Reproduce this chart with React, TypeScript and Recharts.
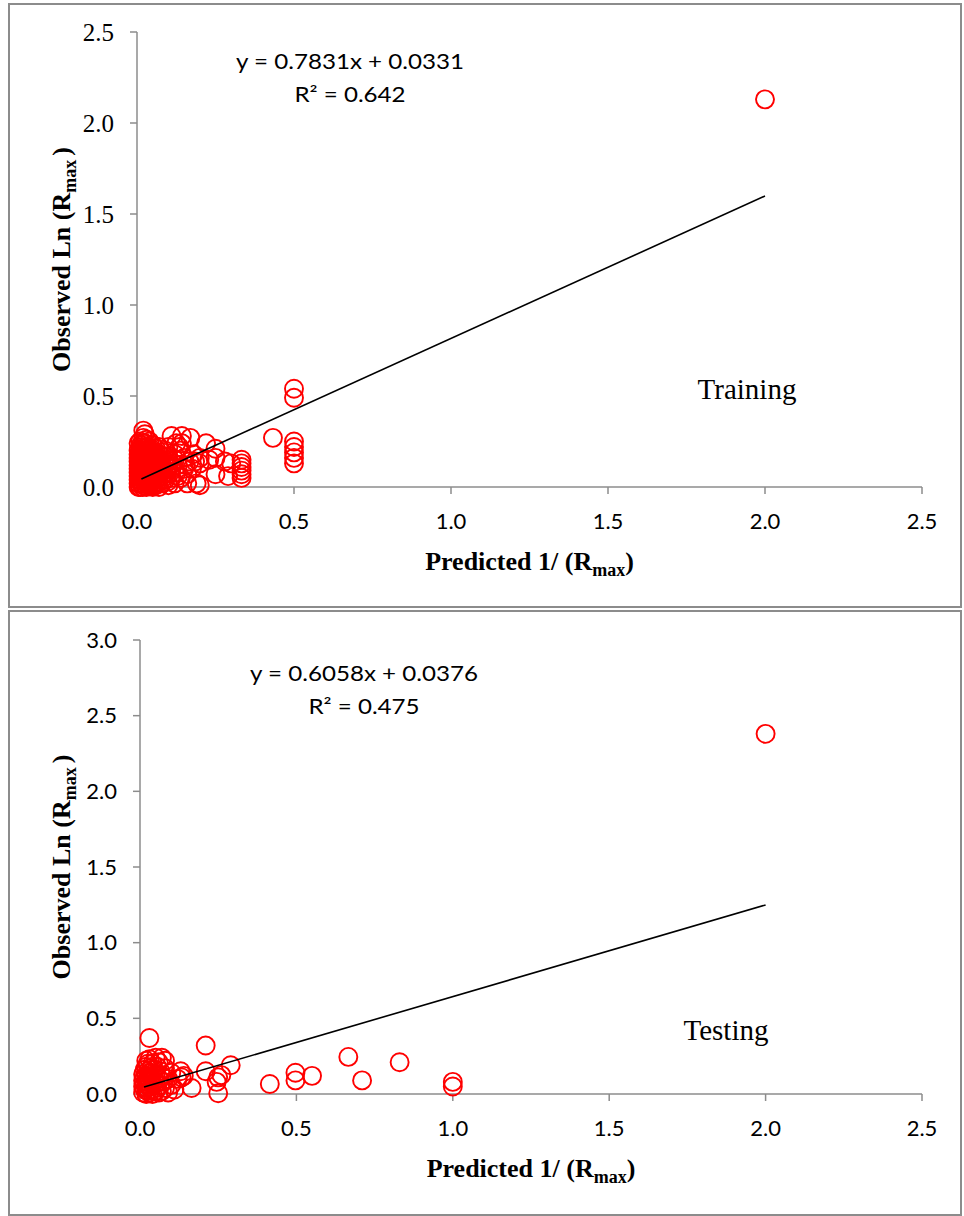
import React from "react";
import { Label, Scatter, ScatterChart, XAxis, YAxis } from "recharts";

// ---------------------------------------------------------------------------
// Data read off the reference (predicted, observed)
// ---------------------------------------------------------------------------

const X_TICKS = [0, 0.5, 1, 1.5, 2, 2.5];
const TRAIN_Y_TICKS = [0, 0.5, 1, 1.5, 2, 2.5];
const TEST_Y_TICKS = [0, 0.5, 1, 1.5, 2, 2.5, 3];

const TRAINING_POINTS: [number, number][] = [
  [0.005, 0.0], [0.005, 0.02], [0.005, 0.04], [0.005, 0.06], [0.005, 0.08], [0.005, 0.1],
  [0.005, 0.12], [0.005, 0.14], [0.005, 0.16], [0.005, 0.18], [0.005, 0.2], [0.005, 0.24],
  [0.01, 0.0], [0.01, 0.04], [0.01, 0.08], [0.01, 0.12], [0.01, 0.16], [0.01, 0.2], [0.01, 0.25],
  [0.012, 0.02], [0.012, 0.06], [0.012, 0.1], [0.012, 0.14], [0.012, 0.18], [0.012, 0.23],
  [0.015, 0.02], [0.015, 0.06], [0.015, 0.11], [0.015, 0.15], [0.015, 0.19], [0.015, 0.22],
  [0.018, 0.0], [0.018, 0.04], [0.018, 0.08], [0.018, 0.12], [0.018, 0.16], [0.018, 0.2], [0.018, 0.24],
  [0.02, 0.01], [0.02, 0.05], [0.02, 0.09], [0.02, 0.13], [0.02, 0.17], [0.02, 0.21], [0.02, 0.27], [0.02, 0.31],
  [0.025, 0.03], [0.025, 0.07], [0.025, 0.12], [0.025, 0.18], [0.025, 0.24], [0.025, 0.29],
  [0.028, 0.02], [0.028, 0.06], [0.028, 0.1], [0.028, 0.16], [0.028, 0.22],
  [0.03, 0.0], [0.03, 0.04], [0.03, 0.08], [0.03, 0.14], [0.03, 0.2], [0.03, 0.26],
  [0.035, 0.02], [0.035, 0.1], [0.035, 0.16], [0.035, 0.22],
  [0.038, 0.04], [0.038, 0.08], [0.038, 0.14], [0.038, 0.2],
  [0.04, 0.01], [0.04, 0.06], [0.04, 0.12], [0.04, 0.18], [0.04, 0.25],
  [0.045, 0.03], [0.045, 0.09], [0.045, 0.15], [0.045, 0.21],
  [0.048, 0.01], [0.048, 0.07], [0.048, 0.13], [0.048, 0.19],
  [0.05, 0.0], [0.05, 0.05], [0.05, 0.11], [0.05, 0.17], [0.05, 0.23],
  [0.055, 0.02], [0.055, 0.08], [0.055, 0.14], [0.055, 0.19],
  [0.058, 0.04], [0.058, 0.1], [0.058, 0.17],
  [0.06, 0.01], [0.06, 0.06], [0.06, 0.12], [0.06, 0.16], [0.06, 0.21],
  [0.065, 0.03], [0.065, 0.09], [0.065, 0.14],
  [0.068, 0.07], [0.068, 0.16],
  [0.07, 0.0], [0.07, 0.05], [0.07, 0.11], [0.07, 0.18], [0.07, 0.22],
  [0.075, 0.08], [0.075, 0.15],
  [0.078, 0.04], [0.078, 0.1], [0.078, 0.17],
  [0.08, 0.02], [0.08, 0.06], [0.08, 0.12], [0.08, 0.19],
  [0.085, 0.1], [0.088, 0.07], [0.088, 0.12], [0.09, 0.04], [0.09, 0.14], [0.09, 0.2],
  [0.095, 0.08], [0.098, 0.03], [0.098, 0.15], [0.1, 0.01], [0.1, 0.12], [0.1, 0.17], [0.1, 0.22],
  [0.105, 0.08], [0.11, 0.05], [0.11, 0.1], [0.11, 0.28], [0.115, 0.13],
  [0.12, 0.02], [0.12, 0.15], [0.12, 0.18], [0.125, 0.08], [0.125, 0.24],
  [0.13, 0.06], [0.13, 0.12], [0.135, 0.22], [0.14, 0.05], [0.14, 0.2],
  [0.143, 0.28], [0.143, 0.24], [0.15, 0.1], [0.15, 0.16], [0.155, 0.12],
  [0.16, 0.02], [0.16, 0.07], [0.167, 0.14], [0.17, 0.27], [0.175, 0.1], [0.18, 0.18], [0.185, 0.14],
  [0.19, 0.02], [0.2, 0.01], [0.2, 0.16], [0.2, 0.13],
  [0.22, 0.24], [0.23, 0.15], [0.25, 0.21], [0.25, 0.16], [0.25, 0.07], [0.28, 0.14], [0.3, 0.13], [0.29, 0.06],
  [0.333, 0.15], [0.333, 0.13], [0.333, 0.11], [0.333, 0.09], [0.333, 0.07], [0.333, 0.05],
  [0.433, 0.27], [0.5, 0.25], [0.5, 0.22], [0.5, 0.19], [0.5, 0.16], [0.5, 0.13],
  [0.5, 0.54], [0.5, 0.49], [2.0, 2.13],
];

const TESTING_POINTS: [number, number][] = [
  [0.01, 0.01], [0.01, 0.05], [0.01, 0.09], [0.01, 0.13],
  [0.015, 0.03], [0.015, 0.07], [0.015, 0.11], [0.015, 0.16],
  [0.02, 0.0], [0.02, 0.04], [0.02, 0.08], [0.02, 0.12], [0.02, 0.18], [0.02, 0.22],
  [0.025, 0.02], [0.025, 0.06], [0.025, 0.1], [0.025, 0.15], [0.025, 0.2],
  [0.03, 0.01], [0.03, 0.05], [0.03, 0.09], [0.03, 0.14], [0.03, 0.23], [0.03, 0.37],
  [0.035, 0.03], [0.035, 0.11], [0.035, 0.17],
  [0.04, 0.0], [0.04, 0.06], [0.04, 0.13], [0.04, 0.2],
  [0.045, 0.09], [0.045, 0.16], [0.05, 0.02], [0.05, 0.07], [0.05, 0.12], [0.05, 0.24],
  [0.055, 0.04], [0.055, 0.18], [0.06, 0.01], [0.06, 0.1], [0.06, 0.21],
  [0.065, 0.06], [0.065, 0.15], [0.07, 0.02], [0.07, 0.12], [0.07, 0.24],
  [0.075, 0.08], [0.08, 0.04], [0.08, 0.17], [0.08, 0.22], [0.09, 0.1], [0.09, 0.01],
  [0.1, 0.06], [0.1, 0.14], [0.11, 0.03], [0.12, 0.1], [0.13, 0.15], [0.133, 0.11], [0.14, 0.12],
  [0.165, 0.04], [0.21, 0.32], [0.21, 0.15], [0.245, 0.08], [0.25, 0.11], [0.25, 0.005], [0.26, 0.125],
  [0.29, 0.19], [0.415, 0.066], [0.497, 0.14], [0.497, 0.09], [0.55, 0.12], [0.666, 0.245],
  [0.71, 0.09], [0.83, 0.21], [1.0, 0.08], [1.0, 0.05], [2.0, 2.38],
];

// linear trend line end points
const TRAINING_FIT: [number, number][] = [[0.014, 0.044], [2.0, 1.599]];
const TESTING_FIT: [number, number][] = [[0.013, 0.046], [2.0, 1.249]];

const SERIF = "Liberation Serif";
const SANS = "Lato";
const AXIS_GREY = "#8c8c8c";

const toRows = (pts: [number, number][]) => pts.map(([x, y]) => ({ x, y }));

// ---------------------------------------------------------------------------
// Small render helpers
// ---------------------------------------------------------------------------

const Ring = (props: any) => (
  <circle cx={props.cx} cy={props.cy} r={9} fill="none" stroke="#ff0000" strokeWidth={1.9} />
);

const NoDot = () => <g />;

function XTick(props: any) {
  const { x, y, payload } = props;
  return (
    <text x={x} y={y} dy={35} textAnchor="middle" fontFamily={SANS} fontSize={22} fill="#000">
      {Number(payload.value).toFixed(1)}
    </text>
  );
}

const XTitle = (props: any) => {
  const { x, y, width } = props.viewBox;
  return (
    <text x={x + width / 2} y={y + 83} textAnchor="middle" fontFamily={SERIF} fontWeight="bold" fontSize={26} fill="#000">
      Predicted 1/ (R
      <tspan fontSize={18} dy={6}>max</tspan>
      <tspan dy={-6}>)</tspan>
    </text>
  );
};

const YTitle = (props: any) => {
  const { y, height } = props.viewBox;
  const cy = y + height / 2;
  return (
    <text
      transform={`translate(70, ${cy}) rotate(-90)`}
      textAnchor="middle"
      fontFamily={SERIF}
      fontWeight="bold"
      fontSize={26}
      fill="#000"
    >
      Observed Ln (R
      <tspan fontSize={18} dy={6}>max</tspan>
      <tspan dy={-6} dx={4}>)</tspan>
    </text>
  );
};

// ---------------------------------------------------------------------------
// One framed panel
// ---------------------------------------------------------------------------

interface PanelProps {
  top: number;
  height: number;
  plotTop: number;
  yAxisWidth: number;
  xAxisHeight: number;
  points: [number, number][];
  fit: [number, number][];
  yTicks: number[];
  yTickFont: string;
  yTickSize: number;
  equation: string;
  r2: string;
  eqX: number;
  eqY: number;
  tag: string;
  tagX: number;
  tagY: number;
}

function Panel(p: PanelProps) {
  const yMax = p.yTicks[p.yTicks.length - 1];
  return (
    <div style={{ position: "absolute", left: 0, top: p.top, width: 964, height: p.height }}>
      <ScatterChart
        width={964}
        height={p.height}
        margin={{ top: p.plotTop, right: 42, bottom: 0, left: 0 }}
      >
        <XAxis
          type="number"
          dataKey="x"
          domain={[0, 2.5]}
          ticks={X_TICKS}
          height={p.xAxisHeight}
          axisLine={{ stroke: AXIS_GREY, strokeWidth: 1.5 }}
          tickLine={{ stroke: AXIS_GREY, strokeWidth: 1.5 }}
          tickSize={7}
          tickMargin={0}
          tick={XTick}
          interval={0}
        >
          <Label content={XTitle} />
        </XAxis>
        <YAxis
          type="number"
          dataKey="y"
          domain={[0, yMax]}
          ticks={p.yTicks}
          width={p.yAxisWidth}
          axisLine={{ stroke: AXIS_GREY, strokeWidth: 1.5 }}
          tickLine={{ stroke: AXIS_GREY, strokeWidth: 1.5 }}
          tickSize={7}
          tickMargin={16}
          tick={{ fontFamily: p.yTickFont, fontSize: p.yTickSize, fill: "#000" }}
          tickFormatter={(v: number) => v.toFixed(1)}
          interval={0}
        >
          <Label content={YTitle} />
        </YAxis>
        <Scatter data={toRows(p.points)} shape={Ring} isAnimationActive={false} />
        <Scatter
          data={toRows(p.fit)}
          shape={NoDot}
          line={{ stroke: "#000", strokeWidth: 1.6 }}
          isAnimationActive={false}
        />
      </ScatterChart>
      <svg
        width={964}
        height={p.height}
        style={{ position: "absolute", left: 0, top: 0, pointerEvents: "none" }}
      >
        <g transform={`translate(${p.eqX}, ${p.eqY}) scale(1.15, 1)`}>
          <text x={0} y={0} textAnchor="middle" fontFamily={SANS} fontSize={21} fill="#000">
            {p.equation}
          </text>
          <text x={0} y={33} textAnchor="middle" fontFamily={SANS} fontSize={21} fill="#000">
            {p.r2}
          </text>
        </g>
        <text x={p.tagX} y={p.tagY} textAnchor="middle" fontFamily={SERIF} fontSize={29} fill="#000">
          {p.tag}
        </text>
      </svg>
    </div>
  );
}

export default function App() {
  return (
    <div style={{ position: "absolute", left: 0, top: 0, width: 964, height: 1216, background: "#fff" }}>
      <div
        style={{
          position: "absolute",
          left: 8,
          top: 3,
          width: 954,
          height: 605,
          boxSizing: "border-box",
          border: `2px solid ${AXIS_GREY}`,
        }}
      />
      <div
        style={{
          position: "absolute",
          left: 8,
          top: 610,
          width: 954,
          height: 606,
          boxSizing: "border-box",
          border: `2px solid ${AXIS_GREY}`,
        }}
      />
      <Panel
        top={0}
        height={607}
        plotTop={32}
        yAxisWidth={137}
        xAxisHeight={120}
        points={TRAINING_POINTS}
        fit={TRAINING_FIT}
        yTicks={TRAIN_Y_TICKS}
        yTickFont={SERIF}
        yTickSize={25}
        equation="y = 0.7831x + 0.0331"
        r2="R² = 0.642"
        eqX={350}
        eqY={69}
        tag="Training"
        tagX={747}
        tagY={399}
      />
      <Panel
        top={607}
        height={609}
        plotTop={33}
        yAxisWidth={140}
        xAxisHeight={122}
        points={TESTING_POINTS}
        fit={TESTING_FIT}
        yTicks={TEST_Y_TICKS}
        yTickFont={SANS}
        yTickSize={22}
        equation="y = 0.6058x + 0.0376"
        r2="R² = 0.475"
        eqX={364}
        eqY={74}
        tag="Testing"
        tagX={726}
        tagY={433}
      />
    </div>
  );
}
